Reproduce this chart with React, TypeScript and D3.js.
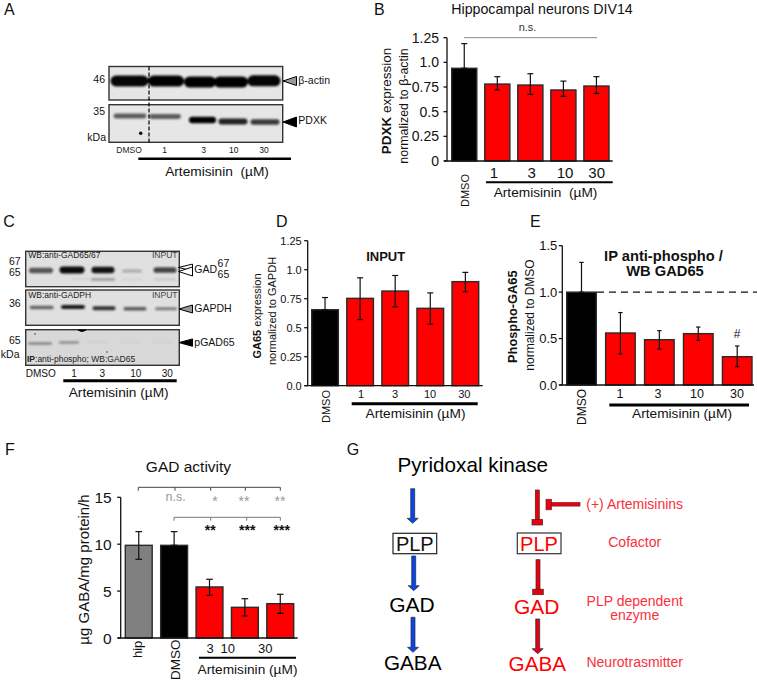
import React from "react";
import * as d3 from "d3";

// ---------- bar chart data ----------
const doseLabels = ["1", "3", "10", "30"];

const pdxkCategories = ["DMSO", "1", "3", "10", "30"];
const pdxkValues = [0.94, 0.78, 0.77, 0.72, 0.76];
const pdxkUpper = [1.19, 0.855, 0.885, 0.81, 0.855];
const pdxkLower = [0.94, 0.72, 0.675, 0.655, 0.685];
const pdxkTicks = [0, 0.25, 0.5, 0.75, 1, 1.25];
const pdxkTickLabels = ["0", "0.25", "0.5", "0.75", "1.0", "1.25"];

const inputCategories = ["DMSO", "1", "3", "10", "30"];
const inputValues = [0.655, 0.753, 0.816, 0.667, 0.897];
const inputUpper = [0.76, 0.93, 0.95, 0.8, 0.977];
const inputLower = [0.655, 0.57, 0.68, 0.53, 0.81];
const inputTicks = [0, 0.25, 0.5, 0.75, 1, 1.25];
const inputTickLabels = ["0.0", "0.25", "0.5", "0.75", "1.0", "1.25"];

const phosphoCategories = ["DMSO", "1", "3", "10", "30"];
const phosphoValues = [1.0, 0.56, 0.488, 0.553, 0.305];
const phosphoUpper = [1.32, 0.78, 0.585, 0.624, 0.42];
const phosphoLower = [1.0, 0.334, 0.387, 0.48, 0.197];
const phosphoTicks = [0, 0.5, 1, 1.5];
const phosphoTickLabels = ["0.0", "0.5", "1.0", "1.5"];

const gadCategories = ["hip", "DMSO", "3", "10", "30"];
const gadValues = [9.88, 9.88, 5.44, 3.27, 3.66];
const gadUpper = [11.34, 11.34, 6.26, 4.19, 4.66];
const gadLower = [8.39, 9.88, 4.55, 2.35, 2.63];
const gadTicks = [0, 5, 10, 15];
const gadTickLabels = ["0", "5", "10", "15"];
const gadVsHipMarks = ["*", "**", "**"];
const gadVsDmsoMarks = ["**", "***", "***"];

// ---------- western blot band strengths (0..1) ----------
const actinBands = [0.98, 1, 1, 1, 0.98];
const pdxkBands = [0.6, 0.6, 1, 0.85, 0.75];
const gad67Bands = [0.62, 0.95, 0.92, 0.22, 0.7];
const gad65Bands = [0, 0.06, 0.28, 0.06, 0.1];
const gapdhBands = [0.55, 0.9, 0.78, 0.6, 0.45];
const pgadBands = [0.4, 0.36, 0.06, 0.05, 0.05];

const RED = "#fe0000";
const SOFT_RED = "#fa2f3c";
const FONT = "'Liberation Sans', Arial, sans-serif";

type BarsProps = {
  categories: string[]; values: number[]; upper: number[]; lower: number[];
  ticks: number[]; tickLabels: string[]; yMax: number; colors: string[];
  axisX: number; axisEnd: number; barsFrom: number; barsTo: number;
  y0: number; yTop: number; tickFont: number; tickGap: number; capHalf?: number;
};

function Bars(p: BarsProps) {
  const x = d3.scaleBand<string>().domain(p.categories).range([p.barsFrom, p.barsTo]).paddingInner(0.24).paddingOuter(0);
  const y = d3.scaleLinear().domain([0, p.yMax]).range([p.y0, p.yTop]);
  const cap = p.capHalf ?? 3;
  return (
    <g>
      {p.categories.map((c, i) => (
        <rect key={c} x={x(c)} y={y(p.values[i])} width={x.bandwidth()} height={p.y0 - y(p.values[i])}
          fill={p.colors[i]} stroke="#2a2a2a" strokeWidth={1.4} />
      ))}
      {p.categories.map((c, i) => {
        const cx = (x(c) as number) + x.bandwidth() / 2;
        return (
          <g key={c} stroke="#111" strokeWidth={1.2}>
            <line x1={cx} x2={cx} y1={y(p.upper[i])} y2={y(p.lower[i])} />
            <line x1={cx - cap} x2={cx + cap} y1={y(p.upper[i])} y2={y(p.upper[i])} />
            <line x1={cx - cap} x2={cx + cap} y1={y(p.lower[i])} y2={y(p.lower[i])} />
          </g>
        );
      })}
      <line x1={p.axisX} x2={p.axisX} y1={p.yTop} y2={p.y0} stroke="#111" strokeWidth={1.3} />
      <line x1={p.axisX - 3} x2={p.axisEnd} y1={p.y0} y2={p.y0} stroke="#111" strokeWidth={1.3} />
      {p.ticks.map((t, i) => (
        <g key={t}>
          <line x1={p.axisX - 3.5} x2={p.axisX} y1={y(t)} y2={y(t)} stroke="#111" strokeWidth={1.3} />
          <text x={p.axisX - p.tickGap} y={y(t) + p.tickFont * 0.36} textAnchor="end" fontSize={p.tickFont} fill="#111">{p.tickLabels[i]}</text>
        </g>
      ))}
    </g>
  );
}

type BlotProps = { bands: number[]; centers: number[]; widths: number[]; bandYs: number[]; thick: number };

function BlotFrame({ x, y, w, h, bg }: { x: number; y: number; w: number; h: number; bg?: string }) {
  return <rect x={x} y={y} width={w} height={h} fill={bg ?? "#e6e6e6"} stroke="#333" strokeWidth={1.4} />;
}

function BlotBands({ bands, centers, widths, bandYs, thick }: BlotProps) {
  const size = d3.scaleLinear().domain([0, 1]).range([0.4, 1]);
  return (
    <g filter="url(#blur)">
      {bands.map((b, i) => {
        if (b <= 0) return null;
        const h = thick * size(b);
        return (
          <rect key={i} x={centers[i] - widths[i] / 2} y={bandYs[i] - h / 2} width={widths[i]} height={h}
            rx={h / 2} ry={h / 2} fill="#060606" opacity={b} />
        );
      })}
    </g>
  );
}

function Rot({ x, y, size, children, anchor = "middle" }: { x: number; y: number; size: number; children: React.ReactNode; anchor?: string }) {
  return <text transform={`translate(${x},${y}) rotate(-90)`} textAnchor={anchor} fontSize={size} fill="#111">{children}</text>;
}

function DoseLabels({ xs, y, size, labels = doseLabels }: { xs: number[]; y: number; size: number; labels?: string[] }) {
  return <g>{labels.map((d, i) => <text key={d} x={xs[i]} y={y} textAnchor="middle" fontSize={size} fill="#111">{d}</text>)}</g>;
}

function DoseBar({ x1, x2, y, w, lx, ly, single = true, size = 13.7 }: { x1: number; x2: number; y: number; w: number; lx: number; ly: number; single?: boolean; size?: number }) {
  return (
    <g>
      <line x1={x1} x2={x2} y1={y} y2={y} stroke="#000" strokeWidth={w} />
      <text x={lx} y={ly} textAnchor="middle" fontSize={size} fill="#111">{single ? "Artemisinin (µM)" : "Artemisinin\u00a0\u00a0(µM)"}</text>
    </g>
  );
}

function Tri({ tipX, tipY, baseX, halfH, fill }: { tipX: number; tipY: number; baseX: number; halfH: number; fill: string }) {
  const path = d3.line()([[tipX, tipY], [baseX, tipY - halfH], [baseX, tipY + halfH]]) + "Z";
  return <path d={path} fill={fill} stroke="#000" strokeWidth={1} />;
}

function Shaft({ x, y1, y2, color, kind }: { x: number; y1: number; y2: number; color: string; kind: "arrow" | "stop" }) {
  if (kind === "arrow") {
    const d = d3.line()([[x - 2, y1], [x + 2, y1], [x + 2, y2 - 5], [x + 5.5, y2 - 5], [x, y2], [x - 5.5, y2 - 5], [x - 2, y2 - 5]]) + "Z";
    return <path d={d} fill={color} stroke="#1c2a44" strokeWidth={0.7} />;
  }
  return (
    <g fill={color} stroke="#4a2020" strokeWidth={0.7}>
      <rect x={x - 2} y={y1} width={4} height={y2 - y1 - 5} />
      <rect x={x - 5.3} y={y2 - 5.5} width={10.6} height={5.5} />
    </g>
  );
}

function PanelLetter({ x, y, t }: { x: number; y: number; t: string }) {
  return <text x={x} y={y} fontSize={16} fill="#111">{t}</text>;
}

export default function App() {
  const stars = (labels: string[], xs: number[], y: number, color: string, weight: number) =>
    labels.map((s, i) => (
      <text key={i + s + y} x={xs[i]} y={y} textAnchor="middle" fontSize={14} fontWeight={weight} fill={color}>{s}</text>
    ));
  const phosphoY = d3.scaleLinear().domain([0, 1.5]).range([385, 245.7]);

  return (
    <svg width={757} height={681} style={{ position: "absolute", left: 0, top: 0, background: "#fff" }} fontFamily={FONT}>
      <defs>
        <filter id="blur" x="-20%" y="-80%" width="140%" height="260%"><feGaussianBlur stdDeviation="0.9" /></filter>
      </defs>

      {/* Panel A */}
      <PanelLetter x={4} y={15} t="A" />
      <BlotFrame x={109} y={66.5} w={173.7} h={33.5} />
      <BlotBands bands={actinBands} centers={[129.5, 166, 200, 231, 264]} widths={[38, 36, 32, 34, 33]} bandYs={[81, 81, 82, 82, 80.8]} thick={11} />
      <BlotFrame x={109} y={104.7} w={173.7} h={37.6} />
      <BlotBands bands={pdxkBands} centers={[130, 165, 202.5, 233, 265]} widths={[33, 32, 27, 29, 29]} bandYs={[116, 116.5, 120, 121.5, 122]} thick={6.5} />
      <circle cx={140.7} cy={133.3} r={1.8} fill="#111" />
      <line x1={149} x2={149} y1={66.5} y2={142.3} stroke="#000" strokeWidth={1.2} strokeDasharray="4 2" />
      <g fontSize={10.5} fill="#111">
        <text x={105} y={83} textAnchor="end">46</text>
        <text x={105} y={115} textAnchor="end">35</text>
        <text x={106} y={141} textAnchor="end">kDa</text>
        <text x={298.3} y={84}>β-actin</text>
        <text x={298.3} y={124}>PDXK</text>
      </g>
      <Tri tipX={283} tipY={81} baseX={296.5} halfH={4.5} fill="#999" />
      <Tri tipX={283} tipY={122} baseX={296.5} halfH={5} fill="#000" />
      <text x={129} y={152.7} textAnchor="middle" fontSize={8.5} fill="#222">DMSO</text>
      <DoseLabels xs={[164.7, 203.7, 233.7, 264]} y={152.7} size={8.5} />
      <DoseBar x1={138.3} x2={291} y={158.7} w={2.5} lx={217} ly={175.7} single={false} />

      {/* Panel B */}
      <PanelLetter x={374} y={15} t="B" />
      <text x={542} y={14} textAnchor="middle" fontSize={14.2} fill="#111">Hippocampal neurons DIV14</text>
      <text x={527.5} y={31} textAnchor="middle" fontSize={11} fill="#333">n.s.</text>
      <line x1={464} x2={597} y1={37.7} y2={37.7} stroke="#888" strokeWidth={1} />
      <Bars categories={pdxkCategories} values={pdxkValues} upper={pdxkUpper} lower={pdxkLower} ticks={pdxkTicks} tickLabels={pdxkTickLabels}
        yMax={1.25} colors={["#000", RED, RED, RED, RED]} axisX={447} axisEnd={612.7} barsFrom={451.7} barsTo={609}
        y0={161} yTop={37.7} tickFont={14} tickGap={8} />
      <Rot x={391} y={101} size={13.5}><tspan fontWeight="bold">PDXK</tspan> expression</Rot>
      <Rot x={408} y={106} size={12.4}>normalized to β-actin</Rot>
      <Rot x={469} y={207} size={11} anchor="start">DMSO</Rot>
      <DoseLabels xs={[494, 531.7, 565, 596.7]} y={178} size={15} />
      <DoseBar x1={486} x2={612.7} y={182.3} w={2} lx={545.5} ly={197.3} single={false} />

      {/* Panel C */}
      <PanelLetter x={3.3} y={226.7} t="C" />
      <BlotFrame x={25.7} y={251.3} w={153.6} h={35.4} bg="#e0e0e0" />
      <BlotBands bands={gad65Bands} centers={[41, 81, 103, 132, 165]} widths={[20, 20, 24, 20, 22]} bandYs={[279, 279, 279.5, 279.5, 279.5]} thick={5} />
      <BlotBands bands={gad67Bands} centers={[41, 72, 103, 132, 165]} widths={[24, 25, 23, 20, 23]} bandYs={[270.5, 270, 270, 271, 270]} thick={7} />
      <BlotFrame x={25.7} y={290} w={153.6} h={35.3} bg="#e0e0e0" />
      <BlotBands bands={gapdhBands} centers={[41.7, 73, 104, 135, 166]} widths={[24, 24, 23, 23, 22]} bandYs={[307.5, 307, 308.3, 308.7, 308.7]} thick={4.5} />
      <BlotFrame x={25.7} y={329.7} w={153.6} h={35.6} bg="#d8d8d8" />
      <BlotBands bands={pgadBands} centers={[40, 69, 97, 130, 162]} widths={[24, 20, 20, 20, 20]} bandYs={[343.5, 342.5, 342, 342, 342]} thick={4} />
      <path d="M78,330 L86,330 Q82,333 78,330 Z" fill="#000" stroke="#000" strokeWidth={1} />
      <circle cx={35} cy={334} r={0.7} fill="#111" /><circle cx={107} cy={352} r={0.7} fill="#111" />
      <g fontSize={8.5} fill="#222">
        <text x={28.3} y={258}>WB:anti-GAD65/67</text>
        <text x={177.5} y={258} textAnchor="end" fill="#444">INPUT</text>
        <text x={28.3} y={298}>WB:anti-GADPH</text>
        <text x={177.5} y={298} textAnchor="end" fill="#444">INPUT</text>
        <text x={27} y={361.5}><tspan fontWeight="bold">IP</tspan>:anti-phospho; WB:GAD65</text>
      </g>
      <g fontSize={10.5} fill="#111" textAnchor="end">
        <text x={20.7} y={265.3}>67</text>
        <text x={20.7} y={276}>65</text>
        <text x={20.7} y={307}>36</text>
        <text x={20.7} y={344.3}>65</text>
        <text x={19.5} y={358.3}>kDa</text>
      </g>
      <Tri tipX={178.5} tipY={267.5} baseX={192.5} halfH={3.4} fill="#fff" />
      <Tri tipX={178.5} tipY={271.5} baseX={192.5} halfH={4.5} fill="#fff" />
      <Tri tipX={179} tipY={309} baseX={192.5} halfH={4} fill="#999" />
      <Tri tipX={179} tipY={342.6} baseX={192.5} halfH={3.7} fill="#000" />
      <g fontSize={10.5} fill="#111">
        <text x={194.3} y={272.7}>GAD</text>
        <text x={217.6} y={267}>67</text>
        <text x={217.6} y={277.5}>65</text>
        <text x={194.3} y={312.3}>GAPDH</text>
        <text x={194.3} y={346.3}>pGAD65</text>
      </g>
      <text x={25.7} y={377.3} fontSize={10} fill="#111">DMSO</text>
      <DoseLabels xs={[74, 102.3, 135.7, 167.3]} y={377.3} size={10} />
      <DoseBar x1={63.3} x2={176.7} y={380.7} w={3} lx={118.7} ly={397.3} />

      {/* Panel D */}
      <PanelLetter x={276} y={226.7} t="D" />
      <text x={385.7} y={260.7} textAnchor="middle" fontSize={13} fontWeight="bold" fill="#111">INPUT</text>
      <Bars categories={inputCategories} values={inputValues} upper={inputUpper} lower={inputLower} ticks={inputTicks} tickLabels={inputTickLabels}
        yMax={1.25} colors={["#000", RED, RED, RED, RED]} axisX={307.7} axisEnd={482.7} barsFrom={311.7} barsTo={478.7}
        y0={385.7} yTop={240.7} tickFont={11} tickGap={6} />
      <Rot x={261} y={316} size={11}><tspan fontWeight="bold">GA65</tspan> expression</Rot>
      <Rot x={275.5} y={311} size={11}>normalized to GAPDH</Rot>
      <Rot x={330} y={423} size={11} anchor="start">DMSO</Rot>
      <DoseLabels xs={[361, 395, 430, 464.3]} y={398} size={11} />
      <DoseBar x1={351.7} x2={477.7} y={403.7} w={3} lx={415.5} ly={418} />

      {/* Panel E */}
      <PanelLetter x={530} y={226.7} t="E" />
      <text x={663.5} y={261} textAnchor="middle" fontSize={14.7} fontWeight="bold" fill="#111">IP anti-phospho /</text>
      <text x={665} y={275.7} textAnchor="middle" fontSize={14.7} fontWeight="bold" fill="#111">WB GAD65</text>
      <Bars categories={phosphoCategories} values={phosphoValues} upper={phosphoUpper} lower={phosphoLower} ticks={phosphoTicks} tickLabels={phosphoTickLabels}
        yMax={1.5} colors={["#000", RED, RED, RED, RED]} axisX={562.3} axisEnd={754} barsFrom={566.7} barsTo={752}
        y0={385} yTop={245.7} tickFont={13} tickGap={5} capHalf={2.2} />
      <line x1={597} x2={757} y1={phosphoY(1)} y2={phosphoY(1)} stroke="#111" strokeWidth={1.2} strokeDasharray="7 5" />
      <Rot x={517} y={316.7} size={12.8}><tspan fontWeight="bold">Phospho-GA65</tspan></Rot>
      <Rot x={533.5} y={315} size={12}>normalized to DMSO</Rot>
      <Rot x={586} y={425} size={12} anchor="start">DMSO</Rot>
      <DoseLabels xs={[620, 658, 697, 737]} y={398} size={12.5} />
      <text x={737} y={338} textAnchor="middle" fontSize={12} fill="#111">#</text>
      <DoseBar x1={609.3} x2={749} y={405} w={3} lx={682} ly={418} />

      {/* Panel F */}
      <PanelLetter x={5} y={455} t="F" />
      <text x={188.5} y={471.7} textAnchor="middle" fontSize={15.5} fill="#111">GAD activity</text>
      <Bars categories={gadCategories} values={gadValues} upper={gadUpper} lower={gadLower} ticks={gadTicks} tickLabels={gadTickLabels}
        yMax={15} colors={["#808080", "#000", RED, RED, RED]} axisX={120.7} axisEnd={297.7} barsFrom={125.3} barsTo={293.7}
        y0={638} yTop={497.3} tickFont={15.5} tickGap={9} capHalf={3.3} />
      <Rot x={88.5} y={569.5} size={15}>µg GABA/mg protein/h</Rot>
      <Rot x={141.5} y={658} size={13} anchor="start">hip</Rot>
      <Rot x={180} y={680} size={13.5} anchor="start">DMSO</Rot>
      <DoseLabels xs={[210, 227.7, 265.3]} y={652.5} size={13} labels={gadCategories.slice(2)} />
      <DoseBar x1={199} x2={296} y={657.7} w={2} lx={247.5} ly={674.3} />
      <path d="M138.3,490.7V487.3H280.3V490.7M175,487.3V490.7M210.7,487.3V490.7M245.3,487.3V490.7" fill="none" stroke="#444" strokeWidth={1} />
      <path d="M174,520.7V517.3H280.3V520.7M210.7,517.3V520.7M246.7,517.3V520.7" fill="none" stroke="#777" strokeWidth={1} />
      <text x={175.7} y={500.5} textAnchor="middle" fontSize={12.5} fill="#999">n.s.</text>
      {stars(gadVsHipMarks, [215, 244, 280], 505.5, "#999", 400)}
      {stars(gadVsDmsoMarks, [210.3, 247.3, 281.7], 535, "#111", 700)}

      {/* Panel G */}
      <PanelLetter x={346.7} y={455} t="G" />
      <text x={472.8} y={472.3} textAnchor="middle" fontSize={20.7} fill="#000">Pyridoxal kinase</text>
      <Shaft x={412.7} y1={488.7} y2={523.3} color="#0c46e0" kind="arrow" />
      <Shaft x={413.7} y1={556} y2={590.7} color="#0c46e0" kind="arrow" />
      <Shaft x={413} y1={617.3} y2={652.3} color="#0c46e0" kind="arrow" />
      <rect x={393} y={533.3} width={43.7} height={20.4} fill="#fff" stroke="#222" strokeWidth={1.2} />
      <text x={414.8} y={550.7} textAnchor="middle" fontSize={20} fill="#111">PLP</text>
      <text x={412} y={612.3} textAnchor="middle" fontSize={21} fill="#000">GAD</text>
      <text x={412.7} y={669.7} textAnchor="middle" fontSize={20.7} fill="#000">GABA</text>
      <Shaft x={537.3} y1={490} y2={525} color="#e8000f" kind="stop" />
      <Shaft x={538} y1={559.7} y2={594.7} color="#e8000f" kind="stop" />
      <Shaft x={537.7} y1={619} y2={653.7} color="#e8000f" kind="arrow" />
      <g fill="#e8000f" stroke="#7a2020" strokeWidth={0.7}>
        <rect x={551} y={502.5} width={29} height={3.6} />
        <rect x={546} y={499.3} width={5.5} height={10.5} />
      </g>
      <rect x={517.3} y={533} width={43.7} height={20.7} fill="#fff" stroke="#333" strokeWidth={1.2} />
      <text x={539} y={550.7} textAnchor="middle" fontSize={20} fill="#fe0000">PLP</text>
      <text x={536.7} y={614} textAnchor="middle" fontSize={21} fill="#fe0000">GAD</text>
      <text x={537.3} y={671} textAnchor="middle" fontSize={20.7} fill="#fe0000">GABA</text>
      <g fontSize={14} fill={SOFT_RED} textAnchor="middle">
        <text x={634.7} y={508.7}>(+) Artemisinins</text>
        <text x={634.7} y={546.7}>Cofactor</text>
        <text x={634.7} y={605.7}>PLP dependent</text>
        <text x={634.7} y={620}>enzyme</text>
        <text x={634.7} y={667.3}>Neurotrasmitter</text>
      </g>
    </svg>
  );
}
